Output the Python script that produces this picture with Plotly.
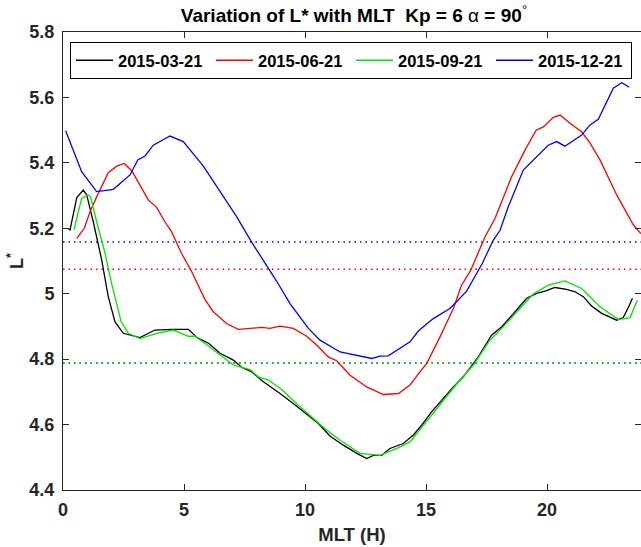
import plotly.graph_objects as go

# ---- data ----
mlt_mar = [0.19, 0.29, 0.57, 0.84, 0.98, 1.25, 1.60, 1.87, 2.15, 2.49, 3.18, 3.80, 4.49, 5.18, 5.52,
           6.03, 6.49, 7.04, 7.38, 7.80, 8.28, 8.97, 9.66, 10.14, 10.55, 11.03, 11.58, 12.14, 12.55,
           12.82, 13.17, 13.51, 14.06, 14.48, 14.82, 15.23, 15.65, 16.13, 16.54, 17.16, 17.71, 18.13,
           18.68, 19.16, 19.57, 19.92, 20.33, 20.81, 21.16, 21.50, 21.85, 22.26, 22.88, 23.15, 23.36, 23.53]
lstar_mar = [5.200, 5.195, 5.294, 5.317, 5.302, 5.220, 5.103, 4.991, 4.914, 4.879, 4.866, 4.889, 4.891,
             4.891, 4.867, 4.848, 4.818, 4.797, 4.775, 4.761, 4.731, 4.695, 4.656, 4.626, 4.603, 4.565,
             4.537, 4.512, 4.496, 4.506, 4.506, 4.527, 4.542, 4.568, 4.598, 4.639, 4.675, 4.715, 4.746,
             4.807, 4.873, 4.899, 4.945, 4.986, 5.001, 5.008, 5.019, 5.013, 5.006, 4.991, 4.962, 4.940,
             4.919, 4.927, 4.958, 4.986]

mlt_jun = [0.57, 0.88, 1.12, 1.39, 1.87, 2.22, 2.53, 2.84, 3.18, 3.53, 3.87, 4.21, 4.49, 4.90, 5.32,
           5.87, 6.21, 6.76, 7.24, 7.73, 8.21, 8.55, 8.97, 9.52, 10.07, 10.48, 10.96, 11.31, 11.86,
           12.55, 13.24, 13.86, 14.34, 14.75, 15.03, 15.58, 16.13, 16.47, 16.85, 17.44, 17.85, 18.54,
           19.09, 19.55, 19.85, 20.26, 20.54, 20.95, 21.43, 21.78, 22.19, 22.88, 23.15, 23.57, 23.88]
lstar_jun = [5.169, 5.200, 5.251, 5.296, 5.370, 5.390, 5.398, 5.376, 5.332, 5.286, 5.264, 5.220, 5.189,
             5.123, 5.067, 4.982, 4.945, 4.909, 4.891, 4.894, 4.897, 4.894, 4.901, 4.894, 4.870, 4.843,
             4.807, 4.795, 4.751, 4.715, 4.692, 4.695, 4.721, 4.761, 4.787, 4.868, 4.955, 5.026, 5.072,
             5.174, 5.230, 5.358, 5.439, 5.500, 5.510, 5.539, 5.546, 5.521, 5.495, 5.460, 5.409, 5.302,
             5.266, 5.210, 5.184]

mlt_sep = [0.45, 0.77, 1.05, 1.14, 1.39, 1.74, 2.01, 2.40, 2.70, 3.18, 3.87, 4.56, 5.18, 5.45, 5.87,
           6.35, 7.04, 7.73, 8.07, 8.48, 9.04, 9.72, 10.28, 10.90, 11.45, 12.27, 13.10, 13.79, 14.34,
           14.89, 15.65, 16.34, 16.96, 17.64, 18.13, 18.88, 19.43, 20.05, 20.74, 21.43, 22.19, 22.95,
           23.43, 23.73]
lstar_sep = [5.195, 5.291, 5.302, 5.296, 5.220, 5.123, 5.031, 4.915, 4.879, 4.863, 4.879, 4.889, 4.870,
             4.870, 4.848, 4.822, 4.782, 4.768, 4.746, 4.736, 4.707, 4.659, 4.624, 4.583, 4.552, 4.512,
             4.506, 4.527, 4.547, 4.598, 4.665, 4.731, 4.782, 4.858, 4.894, 4.955, 4.999, 5.026, 5.039,
             5.016, 4.960, 4.921, 4.927, 4.980]

mlt_dec = [0.11, 0.77, 1.39, 2.08, 2.77, 3.09, 3.39, 3.73, 4.42, 4.97, 5.80, 6.63, 7.18, 7.80, 8.55,
           8.83, 9.38, 10.14, 10.62, 11.45, 12.76, 13.10, 13.44, 13.86, 14.34, 14.68, 15.30, 15.99,
           16.68, 17.33, 17.78, 18.06, 18.40, 19.02, 19.43, 20.05, 20.40, 20.74, 21.43, 21.78, 22.12,
           22.74, 23.09, 23.40]
lstar_dec = [5.498, 5.373, 5.312, 5.319, 5.363, 5.409, 5.421, 5.454, 5.482, 5.465, 5.390, 5.296, 5.235,
             5.157, 5.072, 5.038, 4.970, 4.894, 4.858, 4.822, 4.802, 4.809, 4.810, 4.830, 4.853, 4.886,
             4.924, 4.955, 5.008, 5.093, 5.164, 5.194, 5.266, 5.378, 5.409, 5.454, 5.465, 5.451, 5.485,
             5.516, 5.533, 5.628, 5.645, 5.631]

dates = ["2015-03-21", "2015-06-21", "2015-09-21", "2015-12-21"]
colors = ["#000000", "#ff0000", "#00e600", "#0000ff"]
mean_levels = [4.788, 5.075, 4.788, 5.158]  # dotted reference levels per date

x_tick_vals = [0, 5, 10, 15, 20]
y_tick_vals = [4.4, 4.6, 4.8, 5.0, 5.2, 5.4, 5.6, 5.8]
y_tick_text = ["4.4", "4.6", "4.8", "5", "5.2", "5.4", "5.6", "5.8"]

series_x = [mlt_mar, mlt_jun, mlt_sep, mlt_dec]
series_y = [lstar_mar, lstar_jun, lstar_sep, lstar_dec]

FONT = "Liberation Sans, Arial, Helvetica, sans-serif"
AXC = "#262626"

W, H = 641, 547
L, R, T, B = 63, 0, 32, 57
PW, PH = W - L - R, H - T - B

fig = go.Figure()

# dotted mean lines
for lvl, col in zip(mean_levels, colors):
    fig.add_trace(go.Scatter(x=[0, 24], y=[lvl, lvl], mode="lines",
                             line=dict(color=col, width=1.6, dash="1.5px,4px"),
                             showlegend=False, hoverinfo="skip"))

for xs, ys, name, col in zip(series_x, series_y, dates, colors):
    fig.add_trace(go.Scatter(x=xs, y=ys, mode="lines", name=name,
                             line=dict(color=col, width=1.3)))

fig.update_layout(
    width=W, height=H,
    margin=dict(l=L, r=R, t=T, b=B),
    paper_bgcolor="white", plot_bgcolor="white",
    font=dict(family=FONT, size=18, color=AXC),
    title=dict(text="<b>Variation of L* with MLT  Kp = 6 </b>α<b> = 90</b><sup>°</sup>",
               x=354 / W, xanchor="center", y=1 - 15 / H, yanchor="middle",
               font=dict(size=19, color="#000000", family=FONT)),
    showlegend=True,
    legend=dict(orientation="h", x=(70 - L) / PW, y=1 - (42 - T) / PH,
                xanchor="left", yanchor="top",
                bgcolor="white", bordercolor="#000000", borderwidth=1,
                font=dict(size=16.5, color="#000000", family=FONT, weight="bold"),
                itemwidth=37,
                entrywidth=88, entrywidthmode="pixels",
                tracegroupgap=0),
    xaxis=dict(range=[0, (W - L) / 24.2], tickvals=x_tick_vals,
               ticks="inside", ticklen=6, tickcolor=AXC, mirror="ticks",
               showline=True, linecolor=AXC, linewidth=1, showgrid=False, zeroline=False,
               ticklabelstandoff=3,
               tickfont=dict(size=18, color=AXC, family=FONT, weight="bold"),
               title=dict(text="<b>MLT (H)</b>", font=dict(size=18.5, color=AXC), standoff=9)),
    yaxis=dict(range=[4.4, 5.8], tickvals=y_tick_vals, ticktext=y_tick_text,
               ticks="inside", ticklen=6, tickcolor=AXC, mirror="ticks",
               showline=True, linecolor=AXC, linewidth=1, showgrid=False, zeroline=False,
               ticklabelstandoff=4,
               tickfont=dict(size=18, color=AXC, family=FONT, weight="bold"),
               title=dict(text="<b>L<sup>*</sup></b>", font=dict(size=18, color=AXC), standoff=1)),
)

fig.write_html("out.html")
